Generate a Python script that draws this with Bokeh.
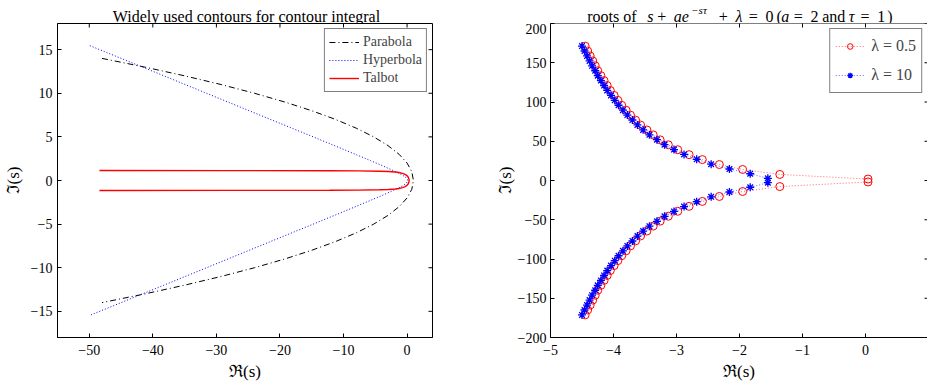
import math
from bokeh.plotting import figure
from bokeh.models import FixedTicker, Legend, LegendItem, Range1d, Span, Label
from bokeh.layouts import row, column
from bokeh.embed import file_html
from bokeh.resources import INLINE

SERIF = "Liberation Serif"

# ---------------- left panel: contours ----------------
parabola_x = [-48, -41.25, -35, -29.25, -24, -19.25, -15, -11.25, -8, -5.25, -3, -1.25, 0, 0.75, 1,
              0.75, 0, -1.25, -3, -5.25, -8, -11.25, -15, -19.25, -24, -29.25, -35, -41.25, -48]
parabola_y = [14, 13, 12, 11, 10, 9, 8, 7, 6, 5, 4, 3, 2, 1, 0,
              -1, -2, -3, -4, -5, -6, -7, -8, -9, -10, -11, -12, -13, -14]

hyperbola_x = [-49.91, -42.66, -32.75, -25.04, -19.03, -14.36, -10.73, -7.92, -5.73, -4.05, -2.76,
               -1.78, -1.05, -0.53, -0.18, 0.03, 0.09,
               0.03, -0.18, -0.53, -1.05, -1.78, -2.76, -4.05, -5.73, -7.92, -10.73, -14.36,
               -19.03, -25.04, -32.75, -42.66, -49.91]
hyperbola_y = [15.46, 13.31, 10.36, 8.06, 6.27, 4.88, 3.79, 2.94, 2.27, 1.75, 1.33,
               1.00, 0.74, 0.52, 0.33, 0.16, 0.0,
               -0.16, -0.33, -0.52, -0.74, -1.00, -1.33, -1.75, -2.27, -2.94, -3.79, -4.88,
               -6.27, -8.06, -10.36, -13.31, -15.46]

talbot_x = [-48.4, -27.3, -12.2, -7.75, -4.36, -2.93, -1.86, -1.28, -0.72, -0.39, -0.01, 0.19, 0.29, 0.32,
            0.29, 0.19, -0.01, -0.39, -0.72, -1.28, -1.86, -2.93, -4.36, -7.75, -12.2, -27.3, -48.4]
talbot_y = [1.14, 1.135, 1.12, 1.10, 1.06, 1.03, 0.97, 0.92, 0.82, 0.73, 0.55, 0.37, 0.18, 0.0,
            -0.18, -0.37, -0.55, -0.73, -0.82, -0.92, -0.97, -1.03, -1.06, -1.10, -1.12, -1.135, -1.14]

left_xlim = (-55, 4)
left_ylim = (-18, 18)
left_xticks = [-50, -40, -30, -20, -10, 0]
left_yticks = [-15, -10, -5, 0, 5, 10, 15]
left_title = "Widely used contours for contour integral"

# ---------------- right panel: roots in the upper half plane (conjugates below) ----------------
roots05_re = [0.04, -1.36, -1.95, -2.32, -2.59, -2.80, -2.98, -3.13, -3.26, -3.37, -3.47, -3.57, -3.65, -3.73,
              -3.80, -3.87, -3.93, -3.99, -4.05, -4.10, -4.15, -4.20, -4.25, -4.29, -4.33, -4.37, -4.41, -4.45]
roots05_im = [1.85, 7.73, 14.03, 20.33, 26.63, 32.92, 39.21, 45.50, 51.78, 58.07, 64.36, 70.64, 76.93, 83.21,
              89.50, 95.78, 102.07, 108.35, 114.64, 120.92, 127.21, 133.49, 139.77, 146.06, 152.34, 158.63,
              164.91, 171.19]
roots10_re = [-1.55, -1.83, -2.16, -2.45, -2.68, -2.88, -3.04, -3.19, -3.31, -3.43, -3.53, -3.62, -3.70, -3.78,
              -3.85, -3.92, -3.98, -4.04, -4.10, -4.15, -4.20, -4.25, -4.29, -4.34, -4.38, -4.42, -4.46, -4.50]
roots10_im = [2.82, 8.62, 14.63, 20.77, 26.97, 33.20, 39.45, 45.70, 51.97, 58.23, 64.50, 70.78, 77.05, 83.33,
              89.60, 95.88, 102.16, 108.44, 114.72, 121.00, 127.28, 133.56, 139.84, 146.12, 152.40, 158.69,
              164.97, 171.25]

right_xlim = (-5, 0.984)
right_ylim = (-200, 200)
right_xticks = [-5, -4, -3, -2, -1, 0, 1]
right_yticks = [-200, -150, -100, -50, 0, 50, 100, 150, 200]

# right title split into pieces: (text, x offset in px from the panel's frame left, italic, superscript)
right_title = [("roots of", 36.7, False, False), ("s", 96.7, True, False), ("+", 106.7, False, False),
               ("ae", 123.3, True, False), ("\u2212s\u03c4", 140.7, True, True), ("+", 168.3, False, False),
               ("\u03bb", 185.0, True, False), ("=", 198.3, False, False), ("0", 215.0, False, False),
               ("(", 226.0, False, False), ("a", 230.7, True, False), ("=", 243.3, False, False),
               ("2", 260.0, False, False), ("and", 271.7, False, False), ("\u03c4", 298.3, True, False),
               ("=", 310.0, False, False), ("1", 326.7, False, False), (")", 336.7, False, False)]


def full_branch(re, im):
    xs = list(reversed(re)) + list(re)
    ys = list(reversed(im)) + [-v for v in im]
    return xs, ys


def fmt(v):
    return ("\u2212" + str(abs(v))) if v < 0 else str(v)


def style_axis(ax, ticks):
    ax.ticker = FixedTicker(ticks=ticks)
    ax.major_tick_in = 4
    ax.major_tick_out = 0
    ax.minor_tick_in = 0
    ax.minor_tick_out = 0
    ax.axis_line_color = "black"
    ax.axis_line_width = 1
    ax.major_tick_line_color = "black"
    ax.major_label_text_font = SERIF
    ax.major_label_text_color = "black"
    ax.major_label_text_font_size = "14px"
    ax.major_label_overrides = {float(t): fmt(t) for t in ticks}
    ax.axis_label_text_font = SERIF
    ax.axis_label_text_font_size = "17px"
    ax.axis_label_text_font_style = "normal"
    ax.axis_label_text_color = "black"


def make_fig(width, xr, yr, border_left, border_right):
    p = figure(width=width, height=360, x_range=Range1d(*xr), y_range=Range1d(*yr),
               output_backend="svg", toolbar_location=None, title=None,
               min_border_left=border_left, min_border_right=border_right,
               min_border_top=0, min_border_bottom=46)
    p.grid.visible = False
    p.background_fill_color = "white"
    p.border_fill_color = "white"
    return p


def title_fig(width):
    t = figure(width=width, height=23, x_range=Range1d(0, width), y_range=Range1d(0, 23),
               output_backend="svg", toolbar_location=None, title=None,
               x_axis_type=None, y_axis_type=None, min_border=0)
    t.grid.visible = False
    t.outline_line_color = None
    t.background_fill_color = "white"
    t.border_fill_color = "white"
    return t


def mirror_ticks(p, xticks, yticks, xlim, ylim, right_at=None):
    # inward tick marks on the top / right edges; half of each dash is clipped by the frame
    p.scatter(xticks, [ylim[1]] * len(xticks), marker="dash", size=8, angle=math.pi / 2,
              line_color="black", line_width=1)
    xr = xlim[1] if right_at is None else right_at
    p.scatter([xr] * len(yticks), yticks, marker="dash", size=8, line_color="black", line_width=1)


# ---------------- left figure ----------------
pl = make_fig(460, left_xlim, left_ylim, 54, 28)
pl.outline_line_color = "black"
pl.outline_line_width = 1
style_axis(pl.xaxis[0], left_xticks)
style_axis(pl.yaxis[0], left_yticks)
pl.xaxis[0].axis_label = "\u211c(s)"
pl.yaxis[0].axis_label = "\u2111(s)"
pl.xaxis[0].major_label_standoff = 7
pl.xaxis[0].axis_label_standoff = 4
pl.yaxis[0].major_label_standoff = 5
pl.yaxis[0].axis_label_standoff = 5
mirror_ticks(pl, left_xticks, left_yticks, left_xlim, left_ylim)

r_par = pl.line(parabola_x, parabola_y, line_color="black", line_width=1, line_dash="6 3 1 3")
r_hyp = pl.line(hyperbola_x, hyperbola_y, line_color="blue", line_width=1, line_dash="1 2")
r_tal = pl.line(talbot_x, talbot_y, line_color="red", line_width=1.4)

leg_l = Legend(items=[LegendItem(label="Parabola", renderers=[r_par]),
                      LegendItem(label="Hyperbola", renderers=[r_hyp]),
                      LegendItem(label="Talbot", renderers=[r_tal])],
               location="top_right")
leg_l.label_text_font = SERIF
leg_l.label_text_font_size = "14px"
leg_l.glyph_width = 30
leg_l.glyph_height = 14
leg_l.label_height = 18
leg_l.spacing = 0
leg_l.padding = 4
leg_l.margin = 5
leg_l.label_standoff = 4
leg_l.border_line_color = "black"
leg_l.border_line_width = 1
leg_l.background_fill_alpha = 1
pl.add_layout(leg_l)

# the title strip's frame is aligned with the plot frame below it by the column layout
tl = title_fig(460)
tl.add_layout(Label(x=189, y=23 - 15.5, x_units="screen", y_units="screen", text=left_title,
                    text_align="center", text_baseline="alphabetic", text_font=SERIF,
                    text_font_size="16px", text_color="black"))

# ---------------- right figure ----------------
pr = make_fig(467, right_xlim, right_ylim, 90, 0)
pr.outline_line_color = None
style_axis(pr.xaxis[0], right_xticks)
style_axis(pr.yaxis[0], right_yticks)
pr.xaxis[0].axis_label = "\u211c(s)"
pr.yaxis[0].axis_label = "\u2111(s)"
pr.xaxis[0].major_label_standoff = 7
pr.xaxis[0].axis_label_standoff = 4
pr.yaxis[0].major_label_standoff = 4
pr.yaxis[0].axis_label_standoff = 0
pr.add_layout(Span(location=right_ylim[1], dimension="width", line_color="black", line_width=1))
mirror_ticks(pr, right_xticks, right_yticks, right_xlim, right_ylim, right_at=1.0)

x05, y05 = full_branch(roots05_re, roots05_im)
x10, y10 = full_branch(roots10_re, roots10_im)
l05 = pr.line(x05, y05, line_color="red", line_width=1, line_dash="1 2", line_alpha=0.6)
s05 = pr.scatter(x05, y05, marker="circle", size=8, fill_color=None, line_color="red", line_width=1)
l10 = pr.line(x10, y10, line_color="blue", line_width=1, line_dash="1 2", line_alpha=0.6)
s10 = pr.scatter(x10, y10, marker="asterisk", size=8, line_color="blue", line_width=1.3)

leg_r = Legend(items=[LegendItem(label="\u03bb = 0.5", renderers=[l05, s05]),
                      LegendItem(label="\u03bb = 10", renderers=[l10, s10])],
               location="top_right")
leg_r.label_text_font = SERIF
leg_r.label_text_font_size = "16px"
leg_r.glyph_width = 29
leg_r.glyph_height = 14
leg_r.label_height = 24
leg_r.spacing = 5
leg_r.padding = 5
leg_r.margin = 5
leg_r.label_standoff = 7
leg_r.border_line_color = "black"
leg_r.border_line_width = 1
leg_r.background_fill_alpha = 1
pr.add_layout(leg_r)

tr = title_fig(467)
for txt, xo, ital, sup in right_title:
    tr.add_layout(Label(x=xo, y=23 - (9.5 if sup else 15.5), x_units="screen", y_units="screen",
                        text=txt, text_align="left", text_baseline="alphabetic", text_font=SERIF,
                        text_font_size="11px" if sup else "16px",
                        text_font_style="italic" if ital else "normal", text_color="black"))

layout = row(column(tl, pl), column(tr, pr))
open("out.html", "w").write(file_html(layout, INLINE))
